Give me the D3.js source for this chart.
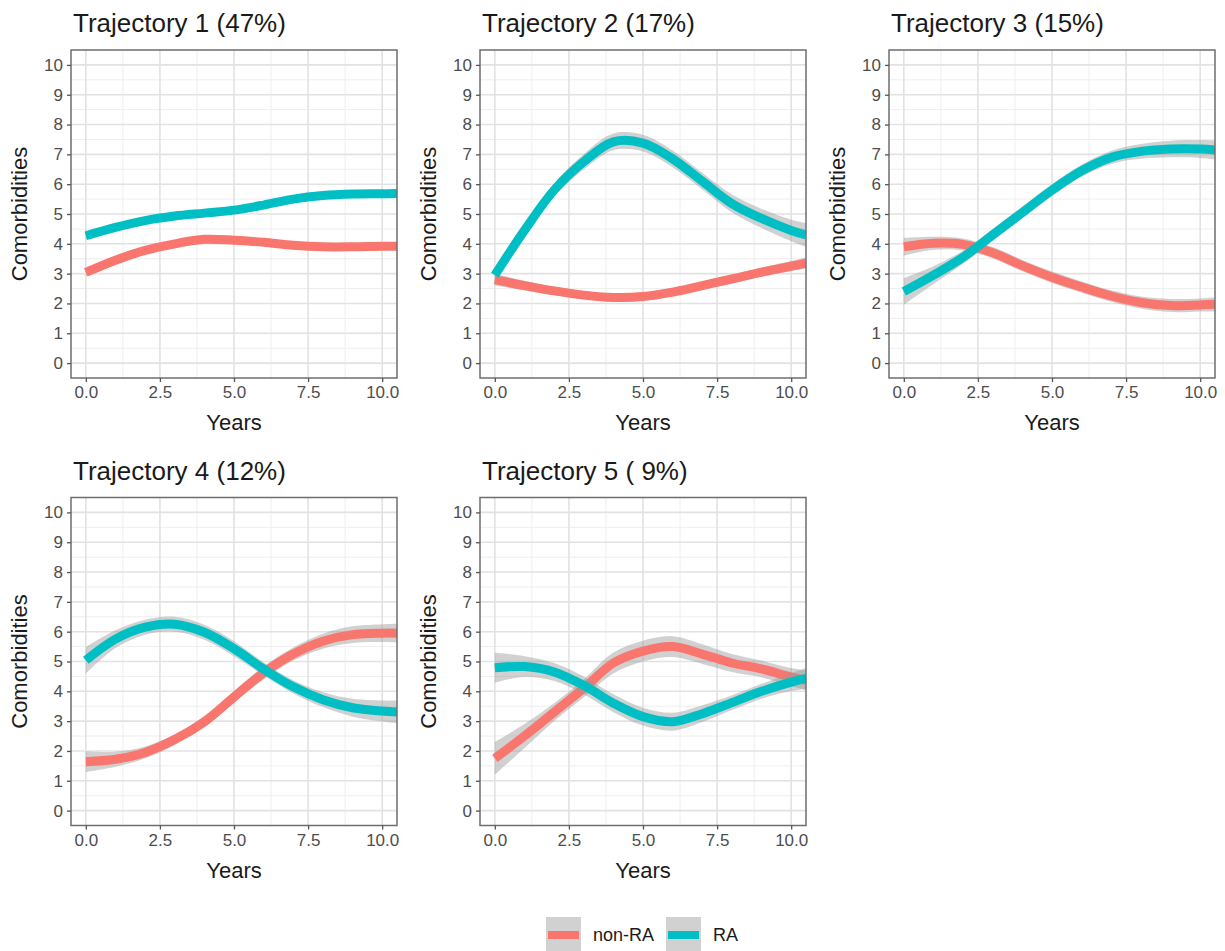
<!DOCTYPE html>
<html>
<head>
<meta charset="utf-8">
<script src="https://cdn.jsdelivr.net/npm/d3@7"></script>
<style>
  body { margin: 0; background: #fff; }
  text { font-family: "Liberation Sans", Arial, sans-serif; }
</style>
</head>
<body>
<svg id="chart" width="1225" height="951"></svg>
<script>
// values
var years = [0, 1, 2, 3, 4, 5, 6, 7, 8, 9, 10, 10.5];
var titles = ["Trajectory 1 (47%)", "Trajectory 2 (17%)", "Trajectory 3 (15%)",
              "Trajectory 4 (12%)", "Trajectory 5 ( 9%)"];
var groups = ["non-RA", "RA"];
var xTicks = [0, 2.5, 5, 7.5, 10];
var yTicks = [0, 1, 2, 3, 4, 5, 6, 7, 8, 9, 10];

var nonRA = [
  [3.04, 3.45, 3.78, 4.00, 4.15, 4.12, 4.05, 3.95, 3.90, 3.90, 3.92, 3.92],
  [2.80, 2.60, 2.42, 2.28, 2.20, 2.23, 2.38, 2.60, 2.82, 3.05, 3.25, 3.35],
  [3.90, 4.02, 3.98, 3.70, 3.27, 2.88, 2.55, 2.25, 2.03, 1.93, 1.95, 1.97],
  [1.64, 1.72, 1.95, 2.38, 2.98, 3.81, 4.62, 5.25, 5.68, 5.90, 5.95, 5.95],
  [1.75, 2.50, 3.30, 4.10, 4.95, 5.35, 5.50, 5.25, 4.95, 4.75, 4.48, 4.37]
];
var RA = [
  [4.27, 4.55, 4.78, 4.93, 5.03, 5.13, 5.30, 5.50, 5.62, 5.67, 5.68, 5.69],
  [2.95, 4.45, 5.80, 6.75, 7.42, 7.38, 6.85, 6.10, 5.35, 4.85, 4.45, 4.30],
  [2.40, 2.95, 3.55, 4.30, 5.05, 5.80, 6.45, 6.90, 7.10, 7.18, 7.18, 7.15],
  [5.04, 5.75, 6.15, 6.25, 5.98, 5.43, 4.75, 4.15, 3.72, 3.45, 3.34, 3.31],
  [4.79, 4.83, 4.65, 4.20, 3.60, 3.15, 2.98, 3.25, 3.62, 4.00, 4.31, 4.43]
];
// half width of the grey confidence band
var nonRAse = [
  [0.12, 0.10, 0.09, 0.08, 0.08, 0.08, 0.08, 0.08, 0.08, 0.08, 0.09, 0.10],
  [0.20, 0.16, 0.14, 0.14, 0.14, 0.14, 0.14, 0.14, 0.14, 0.15, 0.17, 0.19],
  [0.30, 0.22, 0.20, 0.19, 0.19, 0.19, 0.19, 0.19, 0.20, 0.22, 0.22, 0.24],
  [0.35, 0.25, 0.20, 0.18, 0.18, 0.20, 0.22, 0.22, 0.25, 0.28, 0.30, 0.32],
  [0.55, 0.40, 0.30, 0.30, 0.35, 0.35, 0.35, 0.33, 0.30, 0.28, 0.30, 0.33]
];
var RAse = [
  [0.12, 0.10, 0.09, 0.08, 0.08, 0.08, 0.08, 0.08, 0.08, 0.08, 0.09, 0.10],
  [0.18, 0.20, 0.22, 0.26, 0.28, 0.28, 0.28, 0.28, 0.30, 0.32, 0.36, 0.40],
  [0.45, 0.30, 0.22, 0.20, 0.20, 0.20, 0.20, 0.22, 0.25, 0.28, 0.30, 0.32],
  [0.45, 0.30, 0.25, 0.25, 0.25, 0.25, 0.22, 0.22, 0.25, 0.30, 0.35, 0.38],
  [0.50, 0.35, 0.30, 0.30, 0.30, 0.30, 0.30, 0.28, 0.25, 0.25, 0.30, 0.35]
];

var colors = { "non-RA": "#F8766D", "RA": "#00BFC4" };

var svg = d3.select("#chart");
var pw = 326, ph = 328;

var x = d3.scaleLinear().domain([-0.5, 10.5]).range([0, pw]);
var y = d3.scaleLinear().domain([-0.5, 10.5]).range([ph, 0]);

var line = d3.line()
    .x(d => x(d.x)).y(d => y(d.y))
    .curve(d3.curveCatmullRom);
var band = d3.area()
    .x(d => x(d.x)).y0(d => y(d.y - d.se)).y1(d => y(d.y + d.se))
    .curve(d3.curveCatmullRom);

titles.forEach(function (title, i) {
    var col = i % 3, row = Math.floor(i / 3);
    var left = 71 + col * 409, top = 50 + row * 447.5;
    var g = svg.append("g").attr("transform", "translate(" + left + "," + top + ")");

    g.append("defs").append("clipPath").attr("id", "clip" + i)
        .append("rect").attr("width", pw).attr("height", ph);

    // grid: minor then major
    var minorX = [1.25, 3.75, 6.25, 8.75];
    var minorY = d3.range(0.5, 10.5, 1);
    g.selectAll(".mx").data(minorX).enter().append("line")
        .attr("x1", d => x(d)).attr("x2", d => x(d)).attr("y1", 0).attr("y2", ph)
        .attr("stroke", "#eeeeee").attr("stroke-width", 1);
    g.selectAll(".my").data(minorY).enter().append("line")
        .attr("y1", d => y(d)).attr("y2", d => y(d)).attr("x1", 0).attr("x2", pw)
        .attr("stroke", "#eeeeee").attr("stroke-width", 1);
    g.selectAll(".gx").data(xTicks).enter().append("line")
        .attr("x1", d => x(d)).attr("x2", d => x(d)).attr("y1", 0).attr("y2", ph)
        .attr("stroke", "#e2e2e2").attr("stroke-width", 1.6);
    g.selectAll(".gy").data(yTicks).enter().append("line")
        .attr("y1", d => y(d)).attr("y2", d => y(d)).attr("x1", 0).attr("x2", pw)
        .attr("stroke", "#e2e2e2").attr("stroke-width", 1.6);

    var plot = g.append("g").attr("clip-path", "url(#clip" + i + ")");
    [[nonRA[i], nonRAse[i], "non-RA"], [RA[i], RAse[i], "RA"]].forEach(function (s) {
        var pts = years.map((yr, k) => ({ x: yr, y: s[0][k], se: s[1][k] }));
        plot.append("path").datum(pts).attr("d", band)
            .attr("fill", "#999999").attr("fill-opacity", 0.45);
        plot.append("path").datum(pts).attr("d", line)
            .attr("fill", "none").attr("stroke", colors[s[2]])
            .attr("stroke-width", 9).attr("stroke-linecap", "butt");
    });

    // border
    g.append("rect").attr("width", pw).attr("height", ph)
        .attr("fill", "none").attr("stroke", "#6e6e6e").attr("stroke-width", 1.5);

    // axes
    var xa = g.append("g").attr("transform", "translate(0," + ph + ")")
        .call(d3.axisBottom(x).tickValues(xTicks).tickFormat(d3.format(".1f"))
            .tickSize(4).tickPadding(4));
    var ya = g.append("g")
        .call(d3.axisLeft(y).tickValues(yTicks).tickFormat(d3.format("d"))
            .tickSize(4).tickPadding(4));
    [xa, ya].forEach(function (a) {
        a.select(".domain").remove();
        a.selectAll(".tick line").attr("stroke", "#555").attr("stroke-width", 1.3);
        a.selectAll(".tick text").attr("fill", "#4d4d4d")
            .style("font-size", "17px").style("font-family", "'Liberation Sans', Arial, sans-serif");
    });

    g.append("text").attr("x", 2).attr("y", -18)
        .style("font-size", "26px").attr("fill", "#1a1a1a").text(title);
    g.append("text").attr("x", pw / 2).attr("y", ph + 52).attr("text-anchor", "middle")
        .style("font-size", "22px").attr("fill", "#1a1a1a").text("Years");
    g.append("text").attr("transform", "translate(-44," + (ph / 2) + ") rotate(-90)")
        .attr("text-anchor", "middle")
        .style("font-size", "22px").attr("fill", "#1a1a1a").text("Comorbidities");
});

// legend
var leg = svg.append("g").attr("transform", "translate(546,917)");
var keyX = [0, 120];
groups.forEach(function (grp, k) {
    var kg = leg.append("g").attr("transform", "translate(" + keyX[k] + ",0)");
    kg.append("rect").attr("width", 35).attr("height", 36)
        .attr("fill", "#999999").attr("fill-opacity", 0.45);
    kg.append("line").attr("x1", 2).attr("x2", 33).attr("y1", 18).attr("y2", 18)
        .attr("stroke", colors[grp]).attr("stroke-width", 8);
    kg.append("text").attr("x", 47).attr("y", 24)
        .style("font-size", "18px").attr("fill", "#1a1a1a").text(grp);
});
</script>
</body>
</html>
